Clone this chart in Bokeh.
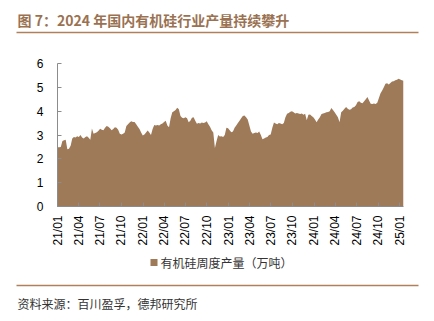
import pandas as pd
from bokeh.plotting import figure
from bokeh.layouts import column
from bokeh.models import Range1d, FixedTicker, DatetimeTickFormatter
from bokeh.core.properties import value
from bokeh.embed import file_html
from bokeh.resources import INLINE

title_text = "图 7：2024 年国内有机硅行业产量持续攀升"
source_text = "资料来源：百川盈孚，德邦研究所"
series_name = "有机硅周度产量（万吨）"

start_date = "2021-01-01"
# weekly output, 10k tonnes
values = [
    2.49, 2.49, 2.50, 2.75, 2.78, 2.80, 2.40, 2.42, 2.55, 2.85, 2.92, 2.90, 2.95,
    2.92, 3.00, 2.90, 2.85, 2.92, 2.95, 2.88, 2.80, 3.27, 3.05, 3.08, 3.12, 3.18,
    3.26, 3.22, 3.20, 3.30, 3.38, 3.35, 3.28, 3.20, 3.25, 3.32, 3.30, 3.22, 3.05,
    3.02, 3.05, 3.10, 3.38, 3.45, 3.52, 3.58, 3.55, 3.55, 3.45, 3.35, 3.25, 3.10,
    2.98, 3.02, 3.10, 3.19, 3.10, 3.00, 3.25, 3.42, 3.40, 3.42, 3.40, 3.45, 3.48,
    3.55, 3.60, 3.40, 3.32, 3.70, 3.95, 4.00, 4.05, 4.14, 4.08, 3.80, 3.72, 3.70,
    3.75, 3.70, 3.54, 3.60, 3.72, 3.75, 3.60, 3.47, 3.50, 3.48, 3.52, 3.50, 3.52,
    3.58, 3.45, 3.35, 3.20, 3.10, 2.45, 2.75, 3.00, 2.94, 2.95, 2.92, 3.00, 3.30,
    3.28, 3.20, 3.12, 3.15, 3.30, 3.40, 3.50, 3.60, 3.70, 3.80, 3.82, 3.75, 3.65,
    3.40, 3.15, 3.05, 3.08, 3.10, 3.08, 3.15, 3.00, 2.82, 2.85, 2.90, 2.92, 3.00,
    3.02, 3.30, 3.52, 3.48, 3.45, 3.50, 3.48, 3.45, 3.50, 3.75, 3.89, 3.92, 3.98,
    4.00, 3.95, 3.90, 3.92, 3.90, 3.88, 3.90, 3.85, 3.89, 3.62, 3.85, 3.86, 3.80,
    3.75, 3.65, 3.54, 3.65, 3.75, 3.88, 3.90, 3.92, 3.95, 3.96, 4.00, 4.13, 4.05,
    3.95, 3.85, 3.75, 3.54, 3.95, 4.02, 4.10, 4.17, 4.10, 4.06, 4.08, 4.15, 4.17,
    4.25, 4.38, 4.42, 4.35, 4.33, 4.42, 4.50, 4.59, 4.45, 4.31, 4.30, 4.32, 4.30,
    4.35, 4.55, 4.75, 4.87, 5.00, 5.15, 5.17, 5.12, 5.18, 5.25, 5.26, 5.30, 5.32,
    5.36, 5.33, 5.30, 5.28,
]
tick_dates = ["2021-01-01", "2021-04-01", "2021-07-01", "2021-10-01",
              "2022-01-01", "2022-04-01", "2022-07-01", "2022-10-01",
              "2023-01-01", "2023-04-01", "2023-07-01", "2023-10-01",
              "2024-01-01", "2024-04-01", "2024-07-01", "2024-10-01",
              "2025-01-01"]
y_ticks = [0, 1, 2, 3, 4, 5, 6]

dates = pd.date_range(start_date, periods=len(values), freq="7D")

W = 434
AREA_COLOR = "#9E7A58"
RULE_COLOR = "#B0805C"
TITLE_COLOR = "#9A7252"


def no_align(f):
    if "frame_align" in f.properties():
        f.frame_align = False
    return f


def blank(height):
    f = figure(width=W, height=height, output_backend="svg", toolbar_location=None,
               x_range=Range1d(0, W), y_range=Range1d(height, 0),
               min_border=0, min_border_left=0, min_border_right=0,
               min_border_top=0, min_border_bottom=0)
    f.axis.visible = False
    f.grid.visible = False
    f.outline_line_color = None
    f.border_fill_color = "white"
    return no_align(f)


# ---- header: title + rule (canvas y 0..40)
p_top = blank(40)
p_top.text(x=[17], y=[19], text=[title_text], text_font=value("Noto Sans CJK SC"),
           text_font_style="bold", text_font_size="14px", text_color=TITLE_COLOR,
           text_baseline="middle", text_align="left")
p_top.segment(x0=[16], y0=[32], x1=[418], y1=[32], line_color=RULE_COLOR, line_width=1.6)

# ---- main chart (canvas y 40..250)
H = 210
p = figure(width=W, height=H, output_backend="svg", toolbar_location=None,
           x_axis_type="datetime",
           x_range=Range1d(dates[0], dates[-1]), y_range=Range1d(0, 6),
           min_border_left=57, min_border_right=31,
           min_border_top=23, min_border_bottom=44)
no_align(p)
p.outline_line_color = None
p.xgrid.grid_line_color = None
p.ygrid.grid_line_color = None
p.border_fill_color = "white"

area = p.varea(x=dates, y1=0, y2=values, fill_color=AREA_COLOR)

tick_ms = [pd.Timestamp(d).value / 1e6 for d in tick_dates]
p.xaxis.ticker = FixedTicker(ticks=tick_ms)
fmt = "%y/%m"
p.xaxis.formatter = DatetimeTickFormatter(days=fmt, months=fmt, years=fmt,
                                          hours=fmt, minutes=fmt)
p.xaxis.major_label_orientation = 1.5708
p.yaxis.ticker = FixedTicker(ticks=y_ticks)

for ax in (p.xaxis, p.yaxis):
    ax.axis_line_color = "#8c8c8c"
    ax.major_tick_line_color = "#8c8c8c"
    ax.major_tick_in = 4
    ax.major_tick_out = 0
    ax.minor_tick_line_color = None
    ax.major_label_text_font = "Liberation Sans"
    ax.major_label_text_font_size = "12px"
    ax.major_label_text_color = "#000000"
p.xaxis.major_label_standoff = 9
p.yaxis.major_label_standoff = 14

# ---- footer: legend + rule + source (canvas y 250..321)
HB = 71
p_bot = blank(HB)
p_bot.rect(x=[153.5], y=[12], width=7, height=7, fill_color=AREA_COLOR, line_color=None)
p_bot.text(x=[160], y=[12], text=[series_name], text_font=value("Noto Sans CJK SC"),
           text_font_size="12px", text_color="#333333",
           text_baseline="middle", text_align="left")
p_bot.segment(x0=[16], y0=[35], x1=[418], y1=[35], line_color=RULE_COLOR, line_width=1.6)
p_bot.text(x=[17], y=[53], text=[source_text], text_font=value("Noto Sans CJK SC"),
           text_font_size="12px", text_color="#333333",
           text_baseline="middle", text_align="left")

layout = column(p_top, p, p_bot, spacing=0)
open("out.html", "w").write(file_html(layout, INLINE))
